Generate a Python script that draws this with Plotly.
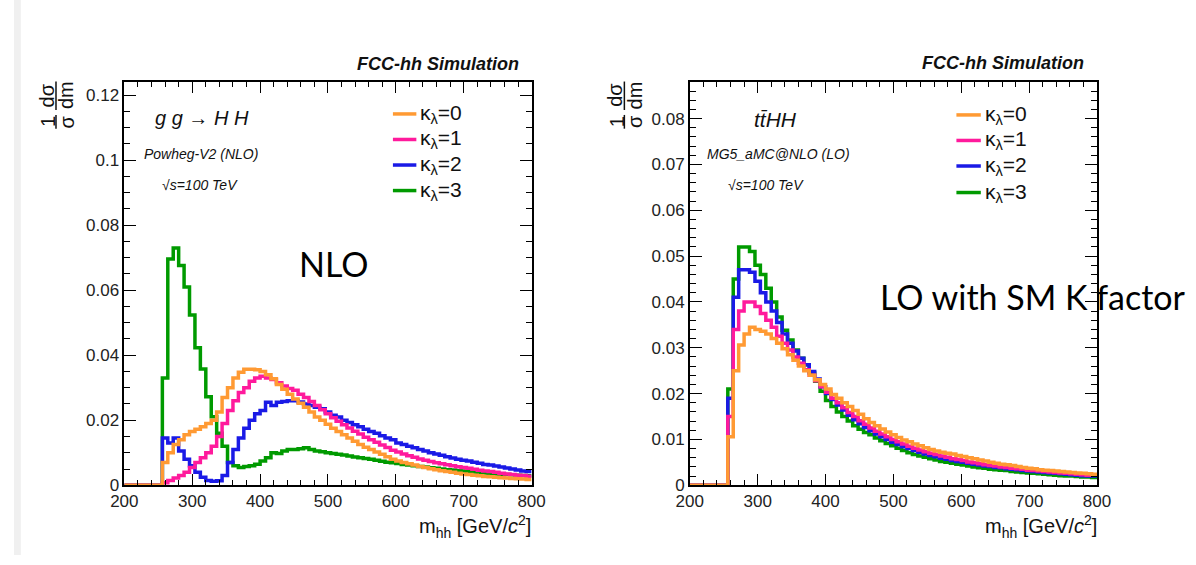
import plotly.graph_objects as go

# ---------------- data (normalised m_hh distributions, 8 GeV bins) ----------------
X_MIN, X_MAX = 200, 800
BIN_W = 8
N_EMPTY = 7          # empty bins 200-256

# left panel: gg -> HH (NLO); values for bins starting at 256 GeV
nlo_k0 = [0.0070, 0.0100, 0.0125, 0.0140, 0.0155, 0.0165, 0.0172, 0.0180,
          0.0190, 0.0200, 0.0225, 0.0270, 0.0300, 0.0330, 0.0348, 0.0357,
          0.0357, 0.0355, 0.0350, 0.0340, 0.0328, 0.0310, 0.0295, 0.0280,
          0.0265, 0.0252, 0.0240, 0.0225, 0.0210, 0.0200, 0.0188, 0.0175,
          0.0165, 0.0155, 0.0145, 0.0135, 0.0125, 0.0117, 0.0110, 0.0102,
          0.0095, 0.0088, 0.0080, 0.0075, 0.0070, 0.0066, 0.0062, 0.0058,
          0.0055, 0.0051, 0.0048, 0.0045, 0.0042, 0.0040, 0.0037, 0.0035,
          0.0033, 0.0031, 0.0029, 0.0027, 0.0026, 0.0025, 0.0023, 0.0022,
          0.0021, 0.0020, 0.0019, 0.0018]
nlo_k1 = [0.0008, 0.0015, 0.0022, 0.0030, 0.0040, 0.0055, 0.0070, 0.0085,
          0.0100, 0.0120, 0.0150, 0.0190, 0.0230, 0.0260, 0.0285, 0.0300,
          0.0320, 0.0330, 0.0335, 0.0330, 0.0325, 0.0315, 0.0305, 0.0298,
          0.0292, 0.0280, 0.0270, 0.0258, 0.0245, 0.0232, 0.0220, 0.0208,
          0.0197, 0.0186, 0.0176, 0.0166, 0.0158, 0.0148, 0.0140, 0.0132,
          0.0124, 0.0116, 0.0108, 0.0102, 0.0096, 0.0091, 0.0086, 0.0081,
          0.0077, 0.0073, 0.0069, 0.0066, 0.0063, 0.0060, 0.0057, 0.0055,
          0.0052, 0.0049, 0.0046, 0.0044, 0.0042, 0.0040, 0.0037, 0.0035,
          0.0033, 0.0031, 0.0030, 0.0028]
nlo_k2 = [0.0145, 0.0130, 0.0145, 0.0105, 0.0080, 0.0060, 0.0040, 0.0025,
          0.0015, 0.0012, 0.0014, 0.0030, 0.0070, 0.0110, 0.0145, 0.0175,
          0.0200, 0.0220, 0.0230, 0.0255, 0.0245, 0.0255, 0.0258, 0.0260,
          0.0260, 0.0256, 0.0250, 0.0245, 0.0240, 0.0235, 0.0225, 0.0215,
          0.0210, 0.0200, 0.0193, 0.0186, 0.0180, 0.0172, 0.0165, 0.0160,
          0.0152, 0.0145, 0.0140, 0.0130, 0.0125, 0.0120, 0.0115, 0.0110,
          0.0105, 0.0100, 0.0096, 0.0092, 0.0088, 0.0084, 0.0080, 0.0077,
          0.0075, 0.0071, 0.0068, 0.0064, 0.0062, 0.0059, 0.0056, 0.0053,
          0.0050, 0.0047, 0.0044, 0.0042]
nlo_k3 = [0.0330, 0.0696, 0.0730, 0.0676, 0.0610, 0.0524, 0.0423, 0.0358,
          0.0272, 0.0211, 0.0160, 0.0120, 0.0070, 0.0060, 0.0055, 0.0058,
          0.0060, 0.0065, 0.0075, 0.0085, 0.0100, 0.0098, 0.0105, 0.0110,
          0.0110, 0.0112, 0.0115, 0.0110, 0.0105, 0.0103, 0.0100, 0.0098,
          0.0095, 0.0093, 0.0090, 0.0087, 0.0085, 0.0082, 0.0080, 0.0077,
          0.0074, 0.0071, 0.0069, 0.0067, 0.0064, 0.0062, 0.0060, 0.0058,
          0.0056, 0.0054, 0.0052, 0.0050, 0.0048, 0.0047, 0.0045, 0.0044,
          0.0042, 0.0041, 0.0039, 0.0038, 0.0036, 0.0035, 0.0034, 0.0033,
          0.0032, 0.0031, 0.0030, 0.0029]

# right panel: ttHH (LO)
lo_k0 = [0.0106, 0.0250, 0.0306, 0.0330, 0.0345, 0.0340, 0.0336, 0.0330,
         0.0320, 0.0310, 0.0298, 0.0285, 0.0273, 0.0260, 0.0250, 0.0240,
         0.0230, 0.0220, 0.0210, 0.0198, 0.0190, 0.0180, 0.0172, 0.0163,
         0.0155, 0.0145, 0.0137, 0.0130, 0.0123, 0.0116, 0.0110, 0.0104,
         0.0099, 0.0095, 0.0090, 0.0086, 0.0082, 0.0078, 0.0075, 0.0072,
         0.0070, 0.0068, 0.0065, 0.0063, 0.0060, 0.0058, 0.0055, 0.0053,
         0.0050, 0.0048, 0.0046, 0.0045, 0.0043, 0.0041, 0.0039, 0.0037,
         0.0036, 0.0034, 0.0033, 0.0032, 0.0031, 0.0030, 0.0029, 0.0028,
         0.0027, 0.0026, 0.0025, 0.0024]
lo_k1 = [0.0150, 0.0340, 0.0380, 0.0400, 0.0400, 0.0390, 0.0375, 0.0360,
         0.0345, 0.0325, 0.0310, 0.0295, 0.0280, 0.0266, 0.0252, 0.0240,
         0.0228, 0.0215, 0.0203, 0.0190, 0.0180, 0.0169, 0.0159, 0.0150,
         0.0141, 0.0133, 0.0125, 0.0118, 0.0112, 0.0106, 0.0100, 0.0095,
         0.0090, 0.0085, 0.0081, 0.0077, 0.0073, 0.0070, 0.0067, 0.0064,
         0.0061, 0.0058, 0.0056, 0.0054, 0.0051, 0.0049, 0.0047, 0.0045,
         0.0043, 0.0042, 0.0040, 0.0039, 0.0037, 0.0036, 0.0035, 0.0033,
         0.0032, 0.0031, 0.0030, 0.0029, 0.0028, 0.0027, 0.0026, 0.0025,
         0.0024, 0.0023, 0.0022, 0.0022]
lo_k2 = [0.0190, 0.0410, 0.0470, 0.0470, 0.0465, 0.0445, 0.0420, 0.0400,
         0.0380, 0.0355, 0.0330, 0.0310, 0.0293, 0.0277, 0.0263, 0.0248,
         0.0232, 0.0215, 0.0200, 0.0187, 0.0175, 0.0164, 0.0153, 0.0143,
         0.0134, 0.0126, 0.0119, 0.0112, 0.0106, 0.0100, 0.0094, 0.0089,
         0.0084, 0.0080, 0.0076, 0.0072, 0.0068, 0.0065, 0.0062, 0.0059,
         0.0057, 0.0054, 0.0052, 0.0050, 0.0048, 0.0046, 0.0044, 0.0042,
         0.0041, 0.0039, 0.0038, 0.0036, 0.0035, 0.0034, 0.0032, 0.0031,
         0.0030, 0.0029, 0.0028, 0.0027, 0.0026, 0.0025, 0.0024, 0.0023,
         0.0022, 0.0021, 0.0020, 0.0020]
lo_k3 = [0.0210, 0.0450, 0.0520, 0.0520, 0.0510, 0.0480, 0.0460, 0.0430,
         0.0400, 0.0367, 0.0338, 0.0317, 0.0295, 0.0277, 0.0263, 0.0245,
         0.0227, 0.0205, 0.0185, 0.0172, 0.0160, 0.0150, 0.0140, 0.0130,
         0.0122, 0.0115, 0.0110, 0.0103, 0.0097, 0.0091, 0.0086, 0.0081,
         0.0076, 0.0071, 0.0067, 0.0064, 0.0061, 0.0058, 0.0055, 0.0052,
         0.0050, 0.0048, 0.0046, 0.0044, 0.0042, 0.0040, 0.0038, 0.0037,
         0.0035, 0.0034, 0.0033, 0.0032, 0.0030, 0.0029, 0.0028, 0.0027,
         0.0026, 0.0025, 0.0024, 0.0023, 0.0022, 0.0021, 0.0020, 0.0020,
         0.0019, 0.0018, 0.0018, 0.0017]

legend_labels = ["κ<sub>λ</sub>=0", "κ<sub>λ</sub>=1", "κ<sub>λ</sub>=2", "κ<sub>λ</sub>=3"]
colors = ["#ff9a33", "#ff1a9c", "#1a1ae6", "#009a00"]

# ---------------- helpers ----------------
W, H = 1196, 565
def PX(x): return x / W
def PY(y): return 1 - y / H

edges = [X_MIN + BIN_W * i for i in range(int((X_MAX - X_MIN) / BIN_W) + 1)]

def step_xy(vals):
    full = [0.0] * N_EMPTY + list(vals)
    xs = edges[:-1] + [edges[-1]]
    ys = full + [full[-1]]
    return xs, ys

fig = go.Figure()
panels = [("x", "y", [nlo_k0, nlo_k1, nlo_k2, nlo_k3]),
          ("x2", "y2", [lo_k0, lo_k1, lo_k2, lo_k3])]
for xa, ya, series in panels:
    for idx in [3, 2, 1, 0]:  # orange drawn last (on top)
        xs, ys = step_xy(series[idx])
        fig.add_trace(go.Scatter(x=xs, y=ys, mode="lines", line_shape="hv",
                                 line=dict(color=colors[idx], width=3.5),
                                 xaxis=xa, yaxis=ya, showlegend=False,
                                 hoverinfo="skip"))

HEL = "Liberation Sans, Arial, sans-serif"
TICKFONT = dict(family=HEL, size=17, color="#222")

def xcfg(dom, anchor):
    return dict(domain=dom, anchor=anchor, range=[X_MIN, X_MAX], showline=True,
                linecolor="black", linewidth=1.5, mirror="ticks", ticks="inside",
                ticklen=12, tickwidth=1.2, tickcolor="black", tick0=200, dtick=100,
                tickfont=TICKFONT, showgrid=False, zeroline=False,
                minor=dict(ticks="inside", ticklen=6, dtick=20, tickwidth=1,
                           tickcolor="black", showgrid=False))

def ycfg(dom, anchor, rng, dt, mdt):
    return dict(domain=dom, anchor=anchor, range=rng, showline=True,
                linecolor="black", linewidth=1.5, mirror="ticks", ticks="inside",
                ticklen=12, tickwidth=1.2, tickcolor="black", tick0=0, dtick=dt,
                tickfont=TICKFONT, showgrid=False, zeroline=False,
                minor=dict(ticks="inside", ticklen=6, dtick=mdt, tickwidth=1,
                           tickcolor="black", showgrid=False))

ydom = [PY(494), PY(83)]
fig.update_layout(
    width=W, height=H, autosize=False,
    margin=dict(l=0, r=0, t=0, b=0),
    paper_bgcolor="white", plot_bgcolor="white",
    xaxis=xcfg([PX(113), PX(530)], "y"),
    yaxis=ycfg(ydom, "x", [0, 0.1242], 0.02, 0.005),
    xaxis2=xcfg([PX(692), PX(1109)], "y2"),
    yaxis2=ycfg(ydom, "x2", [0, 0.0881], 0.01, 0.002),
)

ann = []
shapes = []

def text(x, y, s, size, xanchor="center", family=HEL, color="#111", angle=0):
    ann.append(dict(x=PX(x), y=PY(y), xref="paper", yref="paper", text=s,
                    showarrow=False, xanchor=xanchor, yanchor="middle",
                    textangle=angle, font=dict(family=family, size=size, color=color)))

# Panel texts
text(519, 65, "<b><i>FCC-hh Simulation</i></b>", 18, xanchor="right")
text(1098, 64, "<b><i>FCC-hh Simulation</i></b>", 18, xanchor="right")
text(193, 120, "<i>g g → H H</i>", 20)
text(191, 157, "<i>Powheg-V2 (NLO)</i>", 14)
text(190, 188, "<i>√s=100 TeV</i>", 14)
text(780, 122, "<i>tt\u0304HH</i>", 21)
text(783, 157, "<i>MG5_aMC@NLO (LO)</i>", 14)
text(770, 188, "<i>√s=100 TeV</i>", 14)
text(328, 268, "NLO", 34, family="Lato, Open Sans, sans-serif", color="#000")
text(885, 302, "LO with SM K factor", 34, xanchor="left",
     family="Lato, Open Sans, sans-serif", color="#000")

# axis titles
text(531, 536, "m<sub>hh</sub> [GeV/<i>c</i><sup>2</sup>]", 20, xanchor="right")
text(1111, 536, "m<sub>hh</sub> [GeV/<i>c</i><sup>2</sup>]", 20, xanchor="right")

for bx in (43, 625):
    text(bx - 9, 97, "dσ", 20, angle=-90)
    text(bx + 11, 97, "dm", 20, angle=-90)
    text(bx - 8, 124, "1", 20, angle=-90)
    text(bx + 11, 124, "σ", 20, angle=-90)
    shapes.append(dict(type="line", xref="paper", yref="paper",
                       x0=PX(bx), x1=PX(bx), y0=PY(83), y1=PY(112),
                       line=dict(color="#111", width=1.5)))
    shapes.append(dict(type="line", xref="paper", yref="paper",
                       x0=PX(bx), x1=PX(bx), y0=PY(117), y1=PY(131),
                       line=dict(color="#111", width=1.5)))

# legends
rows_left = [116, 142, 168, 194]
rows_right = [117, 143, 169, 196]
for (x0, x1, tx, rows) in [(388, 412, 414, rows_left), (965, 990, 992, rows_right)]:
    for i, ry in enumerate(rows):
        shapes.append(dict(type="line", xref="paper", yref="paper",
                           x0=PX(x0), x1=PX(x1), y0=PY(ry), y1=PY(ry),
                           line=dict(color=colors[i], width=3.5)))
        text(tx, ry, legend_labels[i], 21, xanchor="left")

# light grey strip at left edge of slide
shapes.append(dict(type="rect", xref="paper", yref="paper", x0=0, x1=PX(7),
                   y0=0, y1=1, fillcolor="#f0f0f0", line=dict(width=0), layer="below"))

fig.update_layout(annotations=ann, shapes=shapes)
fig.write_html(
    "out.html",
    config={"responsive": False},
    post_script=("document.documentElement.style.margin='0';"
                 "document.body.style.margin='0';document.body.style.padding='0';"
                 "document.documentElement.style.overflow='hidden';"
                 "document.body.style.overflow='hidden';"),
)
